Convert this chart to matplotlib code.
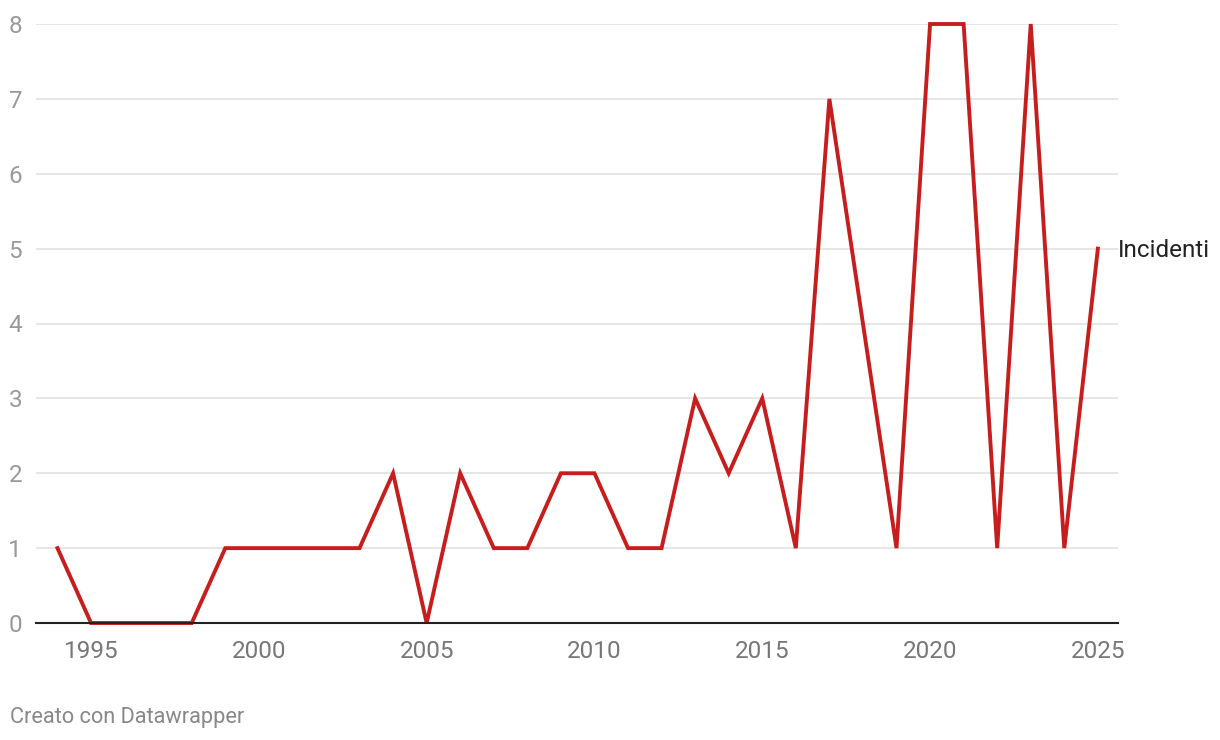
import matplotlib.pyplot as plt

plt.rcParams["font.family"] = ["Roboto", "DejaVu Sans"]

years = list(range(1994, 2026))
incidenti = [1, 0, 0, 0, 0, 1, 1, 1, 1, 1, 2, 0, 2, 1, 1, 2,
             2, 1, 1, 3, 2, 3, 1, 7, 4, 1, 8, 8, 1, 8, 1, 5]
y_ticks = [0, 1, 2, 3, 4, 5, 6, 7, 8]
x_ticks = [1995, 2000, 2005, 2010, 2015, 2020, 2025]

fig = plt.figure(figsize=(12.2, 7.4), dpi=100)
ax = fig.add_axes([36 / 1220, 1 - 623 / 740, (1118 - 36) / 1220, (623 - 24) / 740])

ax.plot(years, incidenti, color="#c71e1d", linewidth=2.8, clip_on=False,
        solid_joinstyle="miter", zorder=3)

ax.set_xlim(1993.36, 2025.6)
ax.set_ylim(0, 8)

ax.set_yticks(y_ticks)
ax.set_xticks(x_ticks)
ax.grid(axis="y", color="#e2e2e2", linewidth=1.2)
ax.set_axisbelow(True)

for s in ["top", "right", "left"]:
    ax.spines[s].set_visible(False)
ax.spines["bottom"].set_color("#222222")
ax.spines["bottom"].set_linewidth(1.5)
ax.spines["bottom"].set_zorder(4)

ax.tick_params(axis="y", length=0, pad=10, labelsize=17.5, labelcolor="#999999")
ax.tick_params(axis="x", length=0, pad=12, labelsize=17.5, labelcolor="#777777")

ax.text(years[-1] + 0.6, incidenti[-1] - 0.03, "Incidenti", fontsize=17.5,
        color="#222222", va="center", ha="left")

fig.text(10 / 1220, 1 - 718 / 740, "Creato con Datawrapper", fontsize=15.7,
         color="#888888", va="center", ha="left")

fig.savefig("out.png", dpi=100)
